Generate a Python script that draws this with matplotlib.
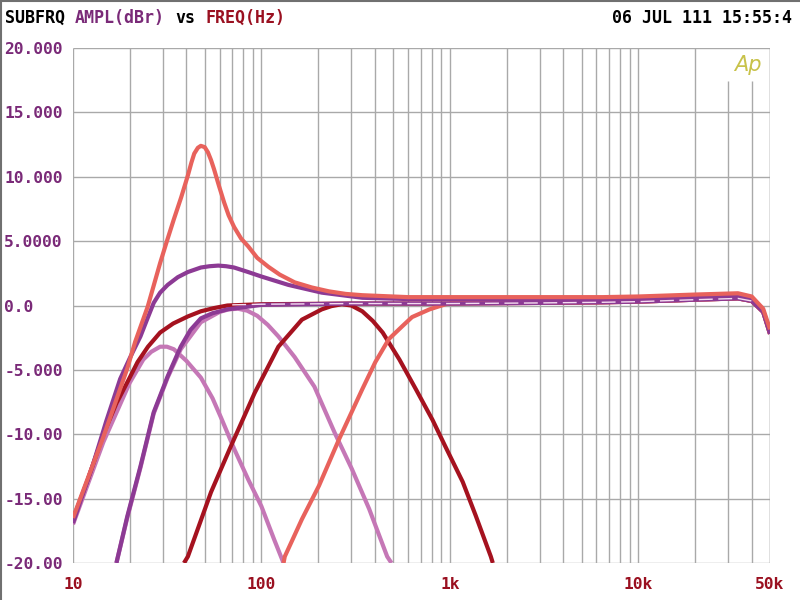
import matplotlib
matplotlib.use('Agg')
import matplotlib.pyplot as plt
from matplotlib.lines import Line2D

# --- data (Hz, dBr) ---
hi_tail_f = [1000, 3000, 6500, 10000, 20000, 33800, 40000, 46000, 50000]
hi_tail_db = [0.5, 0.5, 0.5, 0.55, 0.7, 0.8, 0.55, -0.4, -2.0]
lo_tail_f = [1000, 3000, 6500, 10000, 20000, 33800, 40000, 46000, 50000]
lo_tail_db = [0.15, 0.2, 0.25, 0.3, 0.45, 0.55, 0.35, -0.5, -2.2]

peak_f = [10, 12, 14.5, 17, 19.4, 21.4, 24.9, 29, 31.5, 34.3, 37.5, 40.7, 42.5, 44, 46,
          47.7, 50, 52, 54, 56, 59.5, 63.4, 67, 71.6, 78, 85, 95, 109, 125, 150, 185,
          228, 280, 343, 600] + hi_tail_f
peak_db = [-16.5, -13.4, -10.2, -7.3, -4.9, -2.8, -0.1, 3.3, 5.0, 6.7, 8.4, 10.1, 11.1,
           11.8, 12.25, 12.4, 12.3, 11.9, 11.3, 10.6, 9.3, 8.0, 7.0, 6.1, 5.2, 4.6, 3.7,
           3.0, 2.4, 1.8, 1.4, 1.1, 0.9, 0.8, 0.65] + [v + 0.15 for v in hi_tail_db]

bump_f = [10, 12.8, 15, 17.8, 20, 22.8, 24.7, 26.8, 29, 31.8, 36, 40.7, 47.7, 53, 59,
          65, 71.6, 85, 100, 139, 209, 343, 600] + hi_tail_f
bump_db = [-16.9, -12.3, -9.0, -5.7, -4.1, -2.4, -1.1, 0.2, 1.0, 1.6, 2.2, 2.6, 2.95,
           3.05, 3.1, 3.05, 2.95, 2.6, 2.25, 1.6, 1.0, 0.6, 0.5] + hi_tail_db

shelf_f = [10, 12, 14.5, 17, 20, 22, 25, 29, 34, 40.7, 47.7, 56, 66, 100, 300] + lo_tail_f
shelf_db = [-16.6, -13.5, -10.0, -7.6, -5.6, -4.4, -3.2, -2.1, -1.4, -0.85, -0.45,
            -0.2, 0.0, 0.1, 0.15] + lo_tail_db

steep_f = [17, 19.4, 22.8, 26.8, 31.8, 37.3, 42, 47.7, 55, 66, 100, 300] + lo_tail_f
steep_db = [-20, -16.4, -12.5, -8.3, -5.5, -3.2, -1.9, -1.0, -0.6, -0.3, 0.05, 0.15] + lo_tail_db

lowbp_f = [10, 14.5, 20, 23.6, 26, 29, 31.5, 34.3, 40, 47.7, 55, 61, 72, 85, 100, 117, 131]
lowbp_db = [-17.0, -10.6, -6.0, -4.2, -3.6, -3.2, -3.2, -3.4, -4.3, -5.6, -7.2, -8.7,
            -11.2, -13.5, -15.6, -18.2, -20]

midbp_f = [17, 19.4, 22.8, 26.8, 31.8, 37.3, 47.7, 60, 67, 75, 84, 95, 108, 123, 150,
           191, 245, 302, 373, 465, 490]
midbp_db = [-20, -16.5, -12.6, -8.4, -5.6, -3.4, -1.3, -0.5, -0.3, -0.25, -0.4, -0.8,
            -1.5, -2.4, -4.0, -6.3, -9.9, -12.7, -15.8, -19.5, -20]

bp_f = [38.8, 40.7, 54, 69, 92, 123, 164, 209, 235, 267, 300, 343, 390, 440, 540, 660,
        810, 950, 1170, 1370, 1650, 1690]
bp_db = [-20, -19.5, -14.5, -10.9, -6.8, -3.2, -1.1, -0.3, -0.05, 0.1, 0.0, -0.45,
         -1.2, -2.1, -4.2, -6.5, -8.9, -11.0, -13.7, -16.3, -19.5, -20]

hp_f = [131, 133, 164, 202, 258, 343, 402, 475, 560, 630, 780, 950, 1200, 1800,
        3000, 6500, 10000, 20000, 33800, 40000, 46000, 50000]
hp_db = [-20, -19.5, -16.6, -14.0, -10.4, -6.5, -4.4, -2.6, -1.6, -0.9, -0.3, 0.1,
         0.35, 0.35, 0.2, 0.25, 0.3, 0.45, 0.55, 0.35, -0.5, -2.2]

glint_f = [70, 100, 300, 1000, 3000, 6500, 10000, 20000, 33800, 40000]
glint_db = [0.05, 0.1, 0.15, 0.15, 0.2, 0.25, 0.3, 0.45, 0.55, 0.35]

yticks = [20, 15, 10, 5, 0, -5, -10, -15, -20]
ylabels = ['20.000', '15.000', '10.000', '5.0000', '0.0', '-5.000', '-10.00', '-15.00', '-20.00']
xticks = [10, 100, 1000, 10000, 50000]
xlabels = ['10', '100', '1k', '10k', '50k']

SALMON = '#e8625c'
PURPLE = '#8c3a94'
DARKRED = '#a5121f'
MAUVE = '#c577b6'
GRID = '#a9a9a9'
LBLPURPLE = '#7a2a78'
LBLRED = '#9a1020'

mono = 'DejaVu Sans Mono'

fig = plt.figure(figsize=(8, 6), dpi=100)
ax = fig.add_axes([73 / 800, 1 - 563 / 600, 697 / 800, 515 / 600])
ax.set_xscale('log')
ax.set_xlim(10, 50000)
ax.set_ylim(-20, 20)
for s in ax.spines.values():
    s.set_visible(False)

# grid, drawn by hand (30k/40k stop under the logo)
ax.hlines(yticks, 10, 50000, colors=GRID, lw=1.0, zorder=1)
for dec in [10, 100, 1000, 10000]:
    for m in range(1, 10):
        f = dec * m
        if f > 50000:
            break
        top = 17.4 if f in (30000, 40000) else 20
        ax.vlines(f, -20, top, colors=GRID, lw=1.0, zorder=1)
ax.vlines(50000, -20, 20, colors=GRID, lw=1.0, zorder=1)

kw = dict(lw=3.0, solid_joinstyle='round', solid_capstyle='butt', zorder=3)
ax.plot(lowbp_f, lowbp_db, color=MAUVE, **kw)
ax.plot(midbp_f, midbp_db, color=MAUVE, **kw)
ax.plot(shelf_f, shelf_db, color=DARKRED, **kw)
ax.plot(bp_f, bp_db, color=DARKRED, **kw)
ax.plot(hp_f, hp_db, color=SALMON, **kw)
ax.plot(steep_f, steep_db, color=PURPLE, **kw)
ax.plot(bump_f, bump_db, color=PURPLE, **kw)
ax.plot(peak_f, peak_db, color=SALMON, **kw)
ax.plot(glint_f, glint_db, color='#f6dcf0', lw=1.0, dashes=(10, 4), zorder=4)

ax.set_xticks(xticks)
ax.set_xticklabels(xlabels)
ax.xaxis.set_minor_locator(matplotlib.ticker.NullLocator())
ax.set_yticks(yticks)
ax.set_yticklabels(ylabels)
ax.tick_params(axis='x', length=0, pad=10, labelcolor=LBLRED, labelsize=11.7)
ax.tick_params(axis='y', length=0, pad=49.5, labelcolor=LBLPURPLE, labelsize=11.7)
for t in ax.get_xticklabels() + ax.get_yticklabels():
    t.set_fontfamily(mono)
    t.set_fontweight('bold')
for t in ax.get_yticklabels():
    t.set_horizontalalignment('left')

# header line, monospace so each piece sits at a fixed character column
fs = 12
cw = fs * 0.602 * 100 / 72 / 800   # one character, as figure fraction
ty = 1 - 18 / 600
tx = 5 / 800
hdr = dict(family=mono, weight='bold', fontsize=fs, va='center', ha='left')
fig.text(tx, ty, 'SUBFRQ', color='black', **hdr)
fig.text(tx + 7 * cw, ty, 'AMPL(dBr)', color=LBLPURPLE, **hdr)
fig.text(tx + 17 * cw, ty, 'vs', color='black', **hdr)
fig.text(tx + 20 * cw, ty, 'FREQ(Hz)', color=LBLRED, **hdr)
fig.text(792 / 800, ty, '06 JUL 111 15:55:4', color='black',
         family=mono, weight='bold', fontsize=fs, va='center', ha='right')

fig.text(748 / 800, 1 - 65 / 600, 'Ap', color='#c8c24a', style='italic',
         fontsize=15, ha='center', va='center')

fig.add_artist(Line2D([0.001, 0.001], [0, 1], transform=fig.transFigure, color='#707070', lw=1.5))
fig.add_artist(Line2D([0, 1], [0.998, 0.998], transform=fig.transFigure, color='#707070', lw=1.5))

fig.savefig('out.png', dpi=100)
